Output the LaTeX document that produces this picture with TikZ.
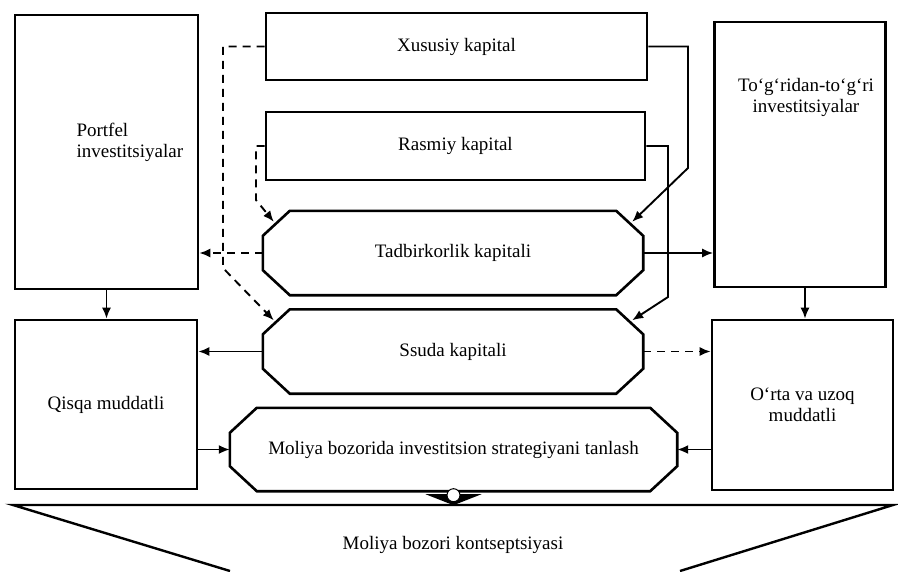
\documentclass[tikz,border=0pt]{standalone}
\usepackage{fontspec}
\setmainfont{Liberation Serif}
\usetikzlibrary{arrows.meta}

\begin{document}
\begin{tikzpicture}[x=1pt, y=-1pt,
        every node/.style={font=\fontsize{19}{21}\selectfont},
        box/.style={draw, line width=2.6pt, inner sep=0pt},
        octbox/.style={inner sep=0pt, minimum width=380pt, minimum height=84pt},
        link/.style={line width=1.9pt},
        arr/.style={link, -{Latex[length=11pt, width=9pt]}},
        darr/.style={arr, dash pattern=on 8pt off 6pt}]
    \useasboundingbox (0, 0) rectangle (898, 571);

    \node[box, minimum width=183pt, minimum height=274pt] (por) at (106.5, 152) {};
    \node[box, minimum width=182pt, minimum height=169pt] (qis) at (106, 404.5) {Qisqa muddatli};
    \node[box, minimum width=171pt, minimum height=265pt] (tog) at (800, 154.5) {};
    \node[box, minimum width=181pt, minimum height=170pt, align=center] (ort) at (802.5, 405) {O‘rta va uzoq\\muddatli};
    \node[box, minimum width=381pt, minimum height=67pt]  (xus) at (456.5, 46.5) {Xususiy kapital};
    \node[box, minimum width=379pt, minimum height=68pt]  (ras) at (455.5, 146) {Rasmiy kapital};
    \node[octbox] (tad) at (453, 253)   {Tadbirkorlik kapitali};
    \node[octbox] (ssu) at (453, 351.5) {Ssuda kapitali};
    \node[octbox, minimum width=447pt, minimum height=83pt] (mol) at (453.5, 449.5)
        {Moliya bozorida investitsion strategiyani tanlash};
    \node (kon) at (453, 545) {Moliya bozori kontseptsiyasi};

    \node[align=left, anchor=west]  (port) at (73, 142) {Portfel\\investitsiyalar};
    \node[align=center] (togt) at (806, 97)  {To‘g‘ridan-to‘g‘ri\\investitsiyalar};

    \foreach \n in {tad, ssu, mol}
        \draw[line width=2.6pt]
            ([xshift=27pt]\n.north west) -- ([xshift=-27pt]\n.north east)
            -- ([yshift=-25pt]\n.north east) -- ([yshift=25pt]\n.south east)
            -- ([xshift=-27pt]\n.south east) -- ([xshift=27pt]\n.south west)
            -- ([yshift=25pt]\n.south west) -- ([yshift=-25pt]\n.north west) -- cycle;

    \draw[line width=2.4pt] (230, 571) -- (13, 505) -- (893, 505) -- (680, 571);

    \draw[arr]  (xus.east) -| (688, 168) -- ([xshift=-11pt, yshift=-11pt]tad.north east);
    \draw[arr]  (ras.east) -| (668, 297) -- ([xshift=-11pt, yshift=-11pt]ssu.north east);
    \draw[darr] (xus.west) -| (223, 268) -- ([xshift=11pt, yshift=-11pt]ssu.north west);
    \draw[darr] (ras.west) -| (256, 200) -- ([xshift=11pt, yshift=-11pt]tad.north west);

    \draw[arr]  (tad.east) -- (tad.east -| tog.west);
    \draw[darr] (ssu.east) -- (ssu.east -| ort.west);
    \draw[darr] (tad.west) -- (tad.west -| por.east);
    \draw[arr]  (ssu.west) -- (ssu.west -| qis.east);
    \draw[arr]  (por.south) -- (por.south |- qis.north);
    \draw[arr]  ([xshift=5pt]tog.south) -- ([xshift=5pt]tog.south |- ort.north);
    \draw[arr]  (mol.west -| qis.east) -- (mol.west);
    \draw[arr]  (mol.east -| ort.west) -- (mol.east);

    \fill ([xshift=-28pt, yshift=-3pt]mol.south) -- ([xshift=28pt, yshift=-3pt]mol.south)
        -- ([yshift=-14pt]mol.south) -- cycle;
    \filldraw[fill=white, line width=1pt] ([yshift=-4pt]mol.south) circle (6.5pt);
\end{tikzpicture}
\end{document}
